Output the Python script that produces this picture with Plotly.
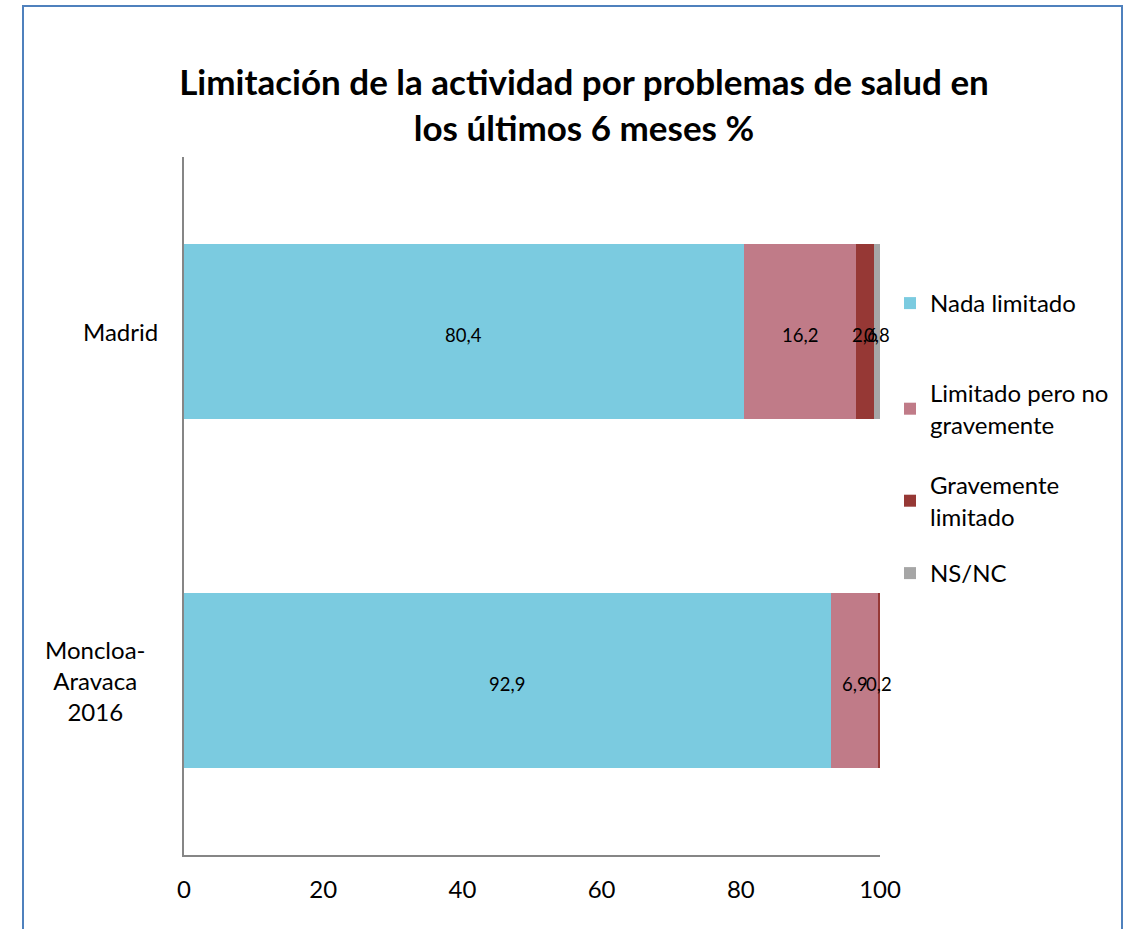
import plotly.graph_objects as go

categories = ["Madrid", "Moncloa-Aravaca 2016"]
category_labels = ["Madrid", "Moncloa-<br>Aravaca<br>2016"]
series_names = ["Nada limitado", "Limitado pero no<br>gravemente", "Gravemente<br>limitado", "NS/NC"]
nada = [80.4, 92.9]
limitado = [16.2, 6.9]
grave = [2.6, 0.2]
nsnc = [0.8, 0.0]
colors = ["#7BCBE0", "#C07B88", "#963835", "#A6A6A6"]
x_ticks = [0, 20, 40, 60, 80, 100]

series = [nada, limitado, grave, nsnc]
FONT = "Lato"

# plot area in pixels: x 184..880, y 157..855
PL, PR, PT, PB = 184, 880, 157, 855
PW, PH = PR - PL, PB - PT

legend_names = ["legend", "legend2", "legend3", "legend4"]
legend_first_line_px = [303, 393, 485, 573]

fig = go.Figure()
for i, (name, vals) in enumerate(zip(series_names, series)):
    fig.add_trace(go.Bar(
        y=categories, x=vals, name=name, orientation="h",
        marker=dict(color=colors[i], line=dict(width=0)),
        legend=legend_names[i], hoverinfo="x+name",
    ))

# data labels centred in each segment
cum = [0.0] * len(categories)
for vals in series:
    for cat, c, v in zip(categories, cum, vals):
        fig.add_annotation(
            x=c + v / 2, xref="x", y=cat, yref="y",
            text=f"{v:.1f}".replace(".", ","), showarrow=False,
            xanchor="center", yanchor="middle", yshift=-3,
            font=dict(family=FONT, size=18.5, color="black"),
        )
    cum = [c + v for c, v in zip(cum, vals)]

legend_layout = {}
for ln, cy in zip(legend_names, legend_first_line_px):
    legend_layout[ln] = dict(
        x=(890 - PL) / PW, xanchor="left",
        y=(PB - (cy - 22)) / PH, yanchor="top",
        font=dict(family=FONT, size=24, color="black"),
        bgcolor="rgba(0,0,0,0)", itemclick=False,
    )

fig.update_layout(
    width=1137, height=929,
    barmode="stack", bargap=0.5,
    paper_bgcolor="white", plot_bgcolor="white",
    margin=dict(l=PL, r=1137 - PR, t=PT, b=929 - PB),
    font=dict(family=FONT, size=24, color="black"),
    title=dict(
        text="<b>Limitación de la actividad por problemas de salud en<br>los últimos 6 meses %</b>",
        x=584 / 1137, xref="container", xanchor="center",
        y=1 - 95 / 929, yref="container", yanchor="middle",
        font=dict(family=FONT, size=35, color="black"),
    ),
    showlegend=True,
    **legend_layout,
)
fig.update_xaxes(
    range=[0, 100], tickvals=x_ticks, ticktext=[str(t) for t in x_ticks],
    showgrid=False, zeroline=False, showline=True, linecolor="#868686", linewidth=2,
    ticks="", tickfont=dict(family=FONT, size=24), ticklabelstandoff=12,
)
fig.update_yaxes(
    autorange="reversed", showgrid=False, zeroline=False,
    showline=True, linecolor="#868686", linewidth=2, ticks="",
    showticklabels=False,
)

# category labels, centred multi-line as in the original
label_centers_px = [120, 96]
for cat, lab, cx in zip(categories, category_labels, label_centers_px):
    fig.add_annotation(
        x=(cx - PL) / PW, xref="paper", y=cat, yref="y",
        text=lab, showarrow=False, align="center",
        xanchor="center", yanchor="middle",
        font=dict(family=FONT, size=24, color="black"),
    )

# chart-area border
fig.add_shape(type="rect", xref="paper", yref="paper",
              x0=(23 - PL) / PW, x1=(1122 - PL) / PW,
              y0=(PB - 945) / PH, y1=(PB - 6) / PH,
              line=dict(color="#4F81BD", width=2), fillcolor="rgba(0,0,0,0)", layer="below")

fig.write_html("out.html", config={"displayModeBar": False},
               post_script="document.body.style.margin='0px';")
